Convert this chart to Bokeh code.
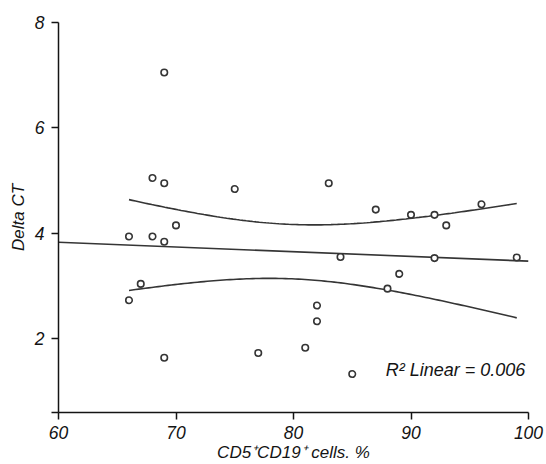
import numpy as np
from bokeh.plotting import figure
from bokeh.models import Label, FixedTicker, Range1d
from bokeh.embed import file_html
from bokeh.resources import INLINE

# data
cd5_cd19_pct = [69, 68, 69, 75, 83, 70, 66, 68, 69, 87, 90, 92, 96, 93,
                84, 92, 99, 89, 88, 67, 66, 82, 82, 81, 77, 69, 85]
delta_ct = [7.05, 5.05, 4.95, 4.84, 4.95, 4.15, 3.94, 3.94, 3.84, 4.45, 4.35, 4.35, 4.55, 4.15,
            3.55, 3.53, 3.54, 3.23, 2.95, 3.04, 2.73, 2.63, 2.33, 1.83, 1.73, 1.64, 1.33]
x_ticks = [60, 70, 80, 90, 100]
y_ticks = [2, 4, 6, 8]
x_label = "CD5\u207aCD19\u207a cells. %"
y_label = "Delta CT"
r2_text = "R\u00b2 Linear = 0.006"

FONT = "Liberation Sans"
INK = "#141414"
LINE = "#353535"

p = figure(frame_width=470, frame_height=390, output_backend="svg", toolbar_location=None,
           x_range=Range1d(60, 100), y_range=Range1d(0.6, 8.0),
           min_border_left=58, min_border_right=16, min_border_top=22, min_border_bottom=50)
p.outline_line_color = None
p.grid.visible = False
p.background_fill_color = "white"
p.border_fill_color = "white"

for ax in (p.xaxis[0], p.yaxis[0]):
    ax.axis_line_color = INK
    ax.axis_line_width = 1.5
    ax.major_tick_line_color = INK
    ax.major_tick_line_width = 1.5
    ax.major_tick_out = 7
    ax.major_tick_in = 0
    ax.minor_tick_line_color = None
    ax.major_label_text_font = FONT
    ax.major_label_text_font_style = "italic"
    ax.major_label_text_font_size = "17.5px"
    ax.major_label_text_color = INK
    ax.axis_label_text_font = FONT
    ax.axis_label_text_font_style = "italic"
    ax.axis_label_text_font_size = "17px"
    ax.axis_label_text_color = INK

p.xaxis.ticker = FixedTicker(ticks=x_ticks)
p.xaxis.major_label_standoff = 6
p.xaxis.axis_label = x_label
p.xaxis.axis_label_standoff = 1
p.yaxis.ticker = FixedTicker(ticks=[0.6] + y_ticks)
p.yaxis.major_label_overrides = {0.6: ""}
p.yaxis.major_label_standoff = 7
p.yaxis.axis_label = y_label
p.yaxis.axis_label_standoff = 4

# regression with 95% CI of the mean
x = np.array(cd5_cd19_pct, dtype=float)
y = np.array(delta_ct, dtype=float)
n = len(x)
slope, intercept = np.polyfit(x, y, 1)
resid = y - (slope * x + intercept)
s = np.sqrt(np.sum(resid ** 2) / (n - 2))
xm = x.mean()
sxx = np.sum((x - xm) ** 2)
t_crit = 2.0595
xs = np.linspace(x.min(), x.max(), 120)
yhat = slope * xs + intercept
half = t_crit * s * np.sqrt(1.0 / n + (xs - xm) ** 2 / sxx)

xf = np.array([60.0, 100.0])
p.line(xf, slope * xf + intercept, line_color=LINE, line_width=1.6)
p.line(xs, yhat + half, line_color=LINE, line_width=1.6)
p.line(xs, yhat - half, line_color=LINE, line_width=1.6)

p.scatter(cd5_cd19_pct, delta_ct, marker="circle", size=6.5, fill_color="white",
          line_color=LINE, line_width=1.6)

p.add_layout(Label(x=87.85, y=1.41, text=r2_text, text_font=FONT, text_font_style="italic",
                   text_font_size="18px", text_color=INK, text_align="left",
                   text_baseline="alphabetic"))

open("out.html", "w").write(file_html(p, INLINE))
